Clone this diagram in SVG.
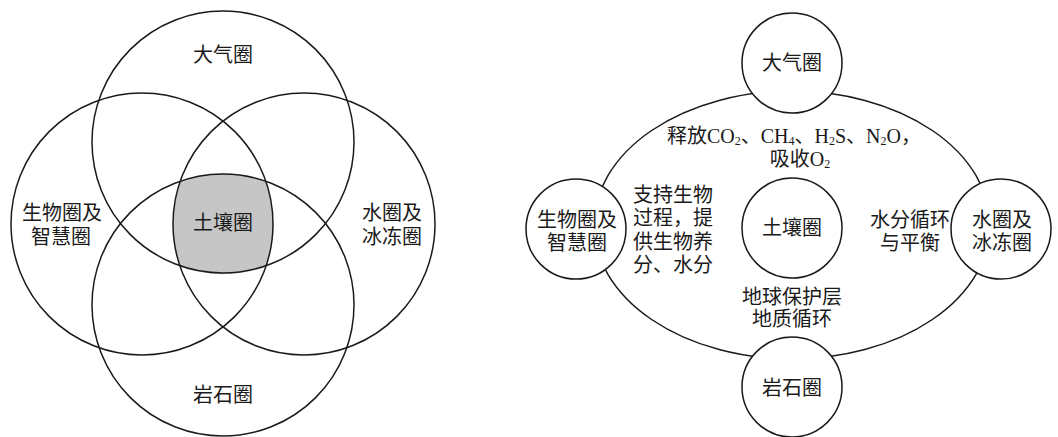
<svg xmlns="http://www.w3.org/2000/svg" width="1058" height="437" viewBox="0 0 1058 437">
<style>
  .c { fill: none; stroke: #1a1a1a; stroke-width: 1.5; }
  .cw { fill: #ffffff; stroke: #1a1a1a; stroke-width: 1.5; }
  .t { font-family: "Liberation Serif", "Noto Sans CJK SC", serif; font-size: 20px; fill: #1a1a1a; text-anchor: middle; dominant-baseline: central; }
  .tl { text-anchor: start; }
  .sub { font-size: 12px; }
</style>
<rect width="1058" height="437" fill="#ffffff"/>

<!-- Left: Venn diagram -->
<g id="venn">
  <path id="soil-region" d="M180.2,181.2 A131,131 0 0 1 265.8,181.2 A131,131 0 0 1 265.8,266.8 A131,131 0 0 1 180.2,266.8 A131,131 0 0 1 180.2,181.2 Z" fill="#c6c6c6" stroke="none"/>
  <g id="venn-atmosphere"><circle class="c" cx="223" cy="142" r="131"/><text class="t" x="223" y="55">大气圈</text></g>
  <g id="venn-biosphere"><circle class="c" cx="142" cy="224" r="131"/><text class="t" x="62" y="213">生物圈及</text><text class="t" x="61" y="237">智慧圈</text></g>
  <g id="venn-hydrosphere"><circle class="c" cx="304" cy="224" r="131"/><text class="t" x="392" y="213">水圈及</text><text class="t" x="392" y="237">冰冻圈</text></g>
  <g id="venn-lithosphere"><circle class="c" cx="223" cy="305" r="131"/><text class="t" x="223" y="395">岩石圈</text></g>
  <g id="venn-soil"><text class="t" x="223" y="223">土壤圈</text></g>
</g>

<!-- Right: ring diagram -->
<g id="connectors">
  <ellipse class="c" cx="792" cy="225" rx="198" ry="134"/>
</g>
<g id="labels">
  <text class="t" x="794" y="136">释放CO<tspan class="sub" dy="5">2</tspan><tspan dy="-5">、CH</tspan><tspan class="sub" dy="5">4</tspan><tspan dy="-5">、H</tspan><tspan class="sub" dy="5">2</tspan><tspan dy="-5">S、N</tspan><tspan class="sub" dy="5">2</tspan><tspan dy="-5">O，</tspan></text>
  <text class="t" x="800" y="159">吸收O<tspan class="sub" dy="5">2</tspan></text>
  <text class="t tl" x="633" y="195">支持生物</text>
  <text class="t tl" x="633" y="218">过程，提</text>
  <text class="t tl" x="633" y="242">供生物养</text>
  <text class="t tl" x="633" y="265">分、水分</text>
  <text class="t" x="910" y="220">水分循环</text>
  <text class="t" x="910" y="243">与平衡</text>
  <text class="t" x="792" y="297">地球保护层</text>
  <text class="t" x="792" y="319">地质循环</text>
</g>
<g id="node-atmosphere"><circle class="cw" cx="792" cy="63" r="50"/><text class="t" x="792" y="63">大气圈</text></g>
<g id="node-biosphere"><circle class="cw" cx="576" cy="229" r="50"/><text class="t" x="577" y="220">生物圈及</text><text class="t" x="577" y="243">智慧圈</text></g>
<g id="node-soil"><circle class="cw" cx="792" cy="228" r="50"/><text class="t" x="792" y="228">土壤圈</text></g>
<g id="node-hydrosphere"><circle class="cw" cx="1001" cy="229" r="50"/><text class="t" x="1002" y="220">水圈及</text><text class="t" x="1002" y="243">冰冻圈</text></g>
<g id="node-lithosphere"><circle class="cw" cx="792" cy="387" r="50"/><text class="t" x="792" y="388">岩石圈</text></g>
</svg>
